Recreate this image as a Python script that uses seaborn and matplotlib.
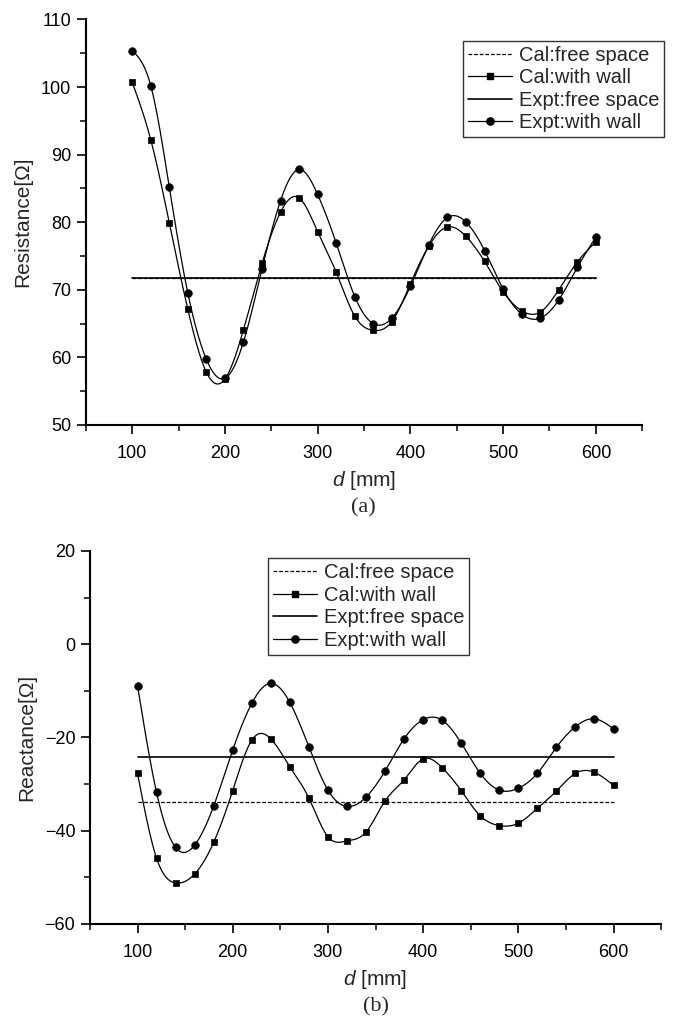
import numpy as np
import pandas as pd
import matplotlib
matplotlib.use("Agg")
import matplotlib.pyplot as plt
import seaborn as sns
from matplotlib.lines import Line2D
from matplotlib.ticker import MultipleLocator

# ---------------- data ----------------
d_mm = [100, 120, 140, 160, 180, 200, 220, 240, 260, 280, 300, 320, 340,
        360, 380, 400, 420, 440, 460, 480, 500, 520, 540, 560, 580, 600]

res_cal_wall = [100.7, 92.2, 79.9, 67.1, 57.8, 56.8, 64.1, 73.9, 81.5, 83.6, 78.6, 72.6, 66.1,
                64.0, 65.3, 70.9, 76.5, 79.3, 77.9, 74.2, 69.7, 66.9, 66.7, 70.0, 74.1, 77.1]
res_expt_wall = [105.4, 100.2, 85.2, 69.5, 59.7, 56.9, 62.3, 73.1, 83.2, 87.8, 84.1, 76.9, 69.0,
                 65.0, 65.8, 70.5, 76.7, 80.7, 80.0, 75.8, 70.1, 66.4, 65.8, 68.5, 73.3, 77.8]
res_cal_free = 71.8
res_expt_free = 71.8

rea_cal_wall = [-27.7, -45.9, -51.2, -49.3, -42.5, -31.4, -20.6, -20.3, -26.3, -33.0, -41.3, -42.2, -40.3,
                -33.6, -29.1, -24.6, -26.5, -31.4, -36.8, -38.9, -38.4, -35.2, -31.5, -27.7, -27.5, -30.3]
rea_expt_wall = [-8.9, -31.8, -43.6, -43.1, -34.7, -22.7, -12.7, -8.4, -12.5, -22.0, -31.3, -34.8, -32.8,
                 -27.2, -20.3, -16.2, -16.3, -21.2, -27.7, -31.3, -30.9, -27.7, -22.1, -17.7, -16.0, -18.2]
rea_cal_free = -33.8
rea_expt_free = -24.2

free_span = [100, 600]

labels = ["Cal:free space", "Cal:with wall", "Expt:free space", "Expt:with wall"]


def natural_spline(x, y, n=500):
    x = np.asarray(x, float)
    y = np.asarray(y, float)
    N = len(x)
    h = np.diff(x)
    A = np.zeros((N, N))
    b = np.zeros(N)
    A[0, 0] = 1
    A[-1, -1] = 1
    for i in range(1, N - 1):
        A[i, i - 1] = h[i - 1]
        A[i, i] = 2 * (h[i - 1] + h[i])
        A[i, i + 1] = h[i]
        b[i] = 6 * ((y[i + 1] - y[i]) / h[i] - (y[i] - y[i - 1]) / h[i - 1])
    M = np.linalg.solve(A, b)
    xs = np.linspace(x[0], x[-1], n)
    idx = np.clip(np.searchsorted(x, xs) - 1, 0, N - 2)
    x0, x1 = x[idx], x[idx + 1]
    hh = x1 - x0
    t0 = x1 - xs
    t1 = xs - x0
    ys = (M[idx] * t0 ** 3 / (6 * hh) + M[idx + 1] * t1 ** 3 / (6 * hh)
          + (y[idx] / hh - M[idx] * hh / 6) * t0 + (y[idx + 1] / hh - M[idx + 1] * hh / 6) * t1)
    return xs, ys


sns.set_theme(style="ticks")
plt.rcParams["font.family"] = ["Liberation Sans", "DejaVu Sans"]
plt.rcParams["mathtext.fontset"] = "custom"
plt.rcParams["mathtext.it"] = "Liberation Sans:italic"
plt.rcParams["mathtext.rm"] = "Liberation Sans"

fig = plt.figure(figsize=(6.76, 10.24), dpi=100)
ax1 = fig.add_axes([0.127, 0.585, 0.823, 0.396])
ax2 = fig.add_axes([0.133, 0.0977, 0.845, 0.3643])


def draw(ax, cal_wall, expt_wall, cal_free, expt_free):
    xs, ys = natural_spline(d_mm, cal_wall)
    sns.lineplot(x=xs, y=ys, ax=ax, color="black", lw=0.9, sort=False, estimator=None)
    xs, ys = natural_spline(d_mm, expt_wall)
    sns.lineplot(x=xs, y=ys, ax=ax, color="black", lw=0.9, sort=False, estimator=None)
    sns.lineplot(x=free_span, y=[cal_free, cal_free], ax=ax, color="black", lw=0.9,
                 linestyle=(0, (3, 1.5)))
    sns.lineplot(x=free_span, y=[expt_free, expt_free], ax=ax, color="black", lw=1.2)
    sns.scatterplot(x=d_mm, y=cal_wall, ax=ax, marker="s", s=24, color="black",
                    edgecolor="black", linewidth=0.5, zorder=5)
    sns.scatterplot(x=d_mm, y=expt_wall, ax=ax, marker="o", s=30, color="black",
                    edgecolor="black", linewidth=0.5, zorder=5)
    ax.set_xlim(50, 650)
    ax.xaxis.set_major_locator(MultipleLocator(100))
    ax.xaxis.set_minor_locator(MultipleLocator(50))
    for s in ["top", "right"]:
        ax.spines[s].set_visible(False)
    for s in ["left", "bottom"]:
        ax.spines[s].set_linewidth(1.5)
        ax.spines[s].set_color("black")
    ax.tick_params(which="major", direction="out", length=6.5, width=1.2, labelsize=13,
                   colors="black", pad=4)
    ax.tick_params(which="minor", direction="out", length=4.5, width=1.1, colors="black")
    ax.tick_params(axis="x", which="major", pad=8)
    ax.set_xlabel(r"$\mathit{d}$ [mm]", fontsize=15, labelpad=5)


draw(ax1, res_cal_wall, res_expt_wall, res_cal_free, res_expt_free)
ax1.set_ylim(50, 110)
ax1.yaxis.set_major_locator(MultipleLocator(10))
ax1.yaxis.set_minor_locator(MultipleLocator(5))
ax1.set_ylabel("Resistance[Ω]", fontsize=15, labelpad=6)

draw(ax2, rea_cal_wall, rea_expt_wall, rea_cal_free, rea_expt_free)
ax2.set_ylim(-60, 20)
ax2.yaxis.set_major_locator(MultipleLocator(20))
ax2.yaxis.set_minor_locator(MultipleLocator(10))
ax2.set_ylabel("Reactance[Ω]", fontsize=15, labelpad=6)

handles = [
    Line2D([], [], color="black", lw=0.9, linestyle=(0, (3, 1.5))),
    Line2D([], [], color="black", lw=0.9, marker="s", markersize=4.8),
    Line2D([], [], color="black", lw=1.2),
    Line2D([], [], color="black", lw=0.9, marker="o", markersize=5.2),
]

for ax, anchor, loc in [(ax1, (1.04, 0.948), "upper right"), (ax2, (0.311, 0.981), "upper left")]:
    leg = ax.legend(handles, labels, loc=loc, bbox_to_anchor=anchor, borderaxespad=0,
                    fontsize=14.5, handlelength=2.2, handletextpad=0.35, labelspacing=0.18,
                    borderpad=0.25, frameon=True, fancybox=False, shadow=False)
    leg.get_frame().set_edgecolor("black")
    leg.get_frame().set_linewidth(1.0)

fig.text(363 / 676, 1 - 508 / 1024, "(a)", ha="center", va="center", fontsize=16,
         family=["Liberation Serif", "DejaVu Serif"])
fig.text(376 / 676, 1 - 1007 / 1024, "(b)", ha="center", va="center", fontsize=16,
         family=["Liberation Serif", "DejaVu Serif"])

fig.savefig("out.png", dpi=100)
